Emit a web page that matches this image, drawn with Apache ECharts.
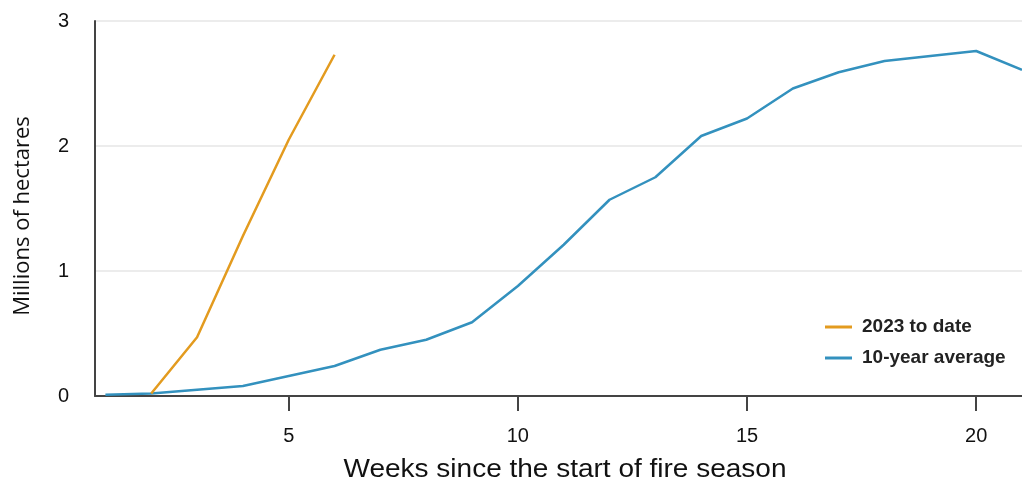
<!DOCTYPE html>
<html><head><meta charset="utf-8">
<script src="https://cdn.jsdelivr.net/npm/echarts@6/dist/echarts.min.js"></script>
<style>html,body{margin:0;padding:0;background:#fff}#c{width:1022px;height:482px}</style>
</head><body><div id="c"></div>
<script>
const weeks = [1,2,3,4,5,6,7,8,9,10,11,12,13,14,15,16,17,18,19,20,21];
const avg10 = [0.01,0.02,0.05,0.08,0.16,0.24,0.37,0.45,0.59,0.88,1.21,1.57,1.75,2.08,2.22,2.46,2.59,2.68,2.72,2.76,2.61];
const weeks2023 = [2,3,4,5,6];
const y2023 = [0.02,0.47,1.28,2.05,2.73];
const xTicks = [5,10,15,20];
const yTicks = [0,1,2,3];
const names = ['2023 to date','10-year average'];
const xTitle = 'Weeks since the start of fire season';
const yTitle = 'Millions of hectares';

const chart = echarts.init(document.getElementById('c'), null, {renderer:'canvas'});
const font = 'Liberation Sans, Arial, sans-serif';
chart.setOption({
  animation:false,
  backgroundColor:'#ffffff',
  grid:{left:95,right:0,top:21,bottom:86,containLabel:false},
  xAxis:{
    type:'value', min:0.773, max:21,
    axisLine:{show:true,lineStyle:{color:'#444',width:2}},
    axisTick:{show:true,length:15,lineStyle:{color:'#444',width:2},customValues:xTicks},
    axisLabel:{customValues:xTicks,margin:30,fontSize:20,color:'#111',fontFamily:font},
    splitLine:{show:false}
  },
  yAxis:{
    type:'value', min:0, max:3, interval:1,
    axisLine:{show:true,lineStyle:{color:'#444',width:2}},
    axisTick:{show:false},
    axisLabel:{customValues:yTicks,margin:26,fontSize:20,color:'#111',fontFamily:font},
    splitLine:{show:true,lineStyle:{color:'#e6e6e6',width:1.5}}
  },
  legend:{
    orient:'vertical', left:820, top:312, itemWidth:27, itemHeight:3, itemGap:11,
    icon:'rect',
    textStyle:{fontSize:19,fontWeight:'bold',color:'#222',fontFamily:font,lineHeight:20,padding:[0,0,0,5]},
    data:names
  },
  graphic:[{
    type:'text', x:565, y:470, scaleX:1.12,
    style:{text:xTitle,fontSize:25,fill:'#111',fontFamily:font,align:'center',verticalAlign:'middle'}
  },{
    type:'text', x:23, y:216,
    rotation:Math.PI/2,
    style:{text:yTitle,fontSize:22,fill:'#111',fontFamily:'Open Sans, sans-serif',align:'center',verticalAlign:'middle'}
  }],
  series:[
    {name:names[1],type:'line',symbol:'none',lineStyle:{width:2.5,color:'#3391be'},itemStyle:{color:'#3391be'},
     data:weeks.map((w,i)=>[w,avg10[i]])},
    {name:names[0],type:'line',symbol:'none',lineStyle:{width:2.5,color:'#e39b1f'},itemStyle:{color:'#e39b1f'},
     data:weeks2023.map((w,i)=>[w,y2023[i]])}
  ]
});
</script></body></html>
